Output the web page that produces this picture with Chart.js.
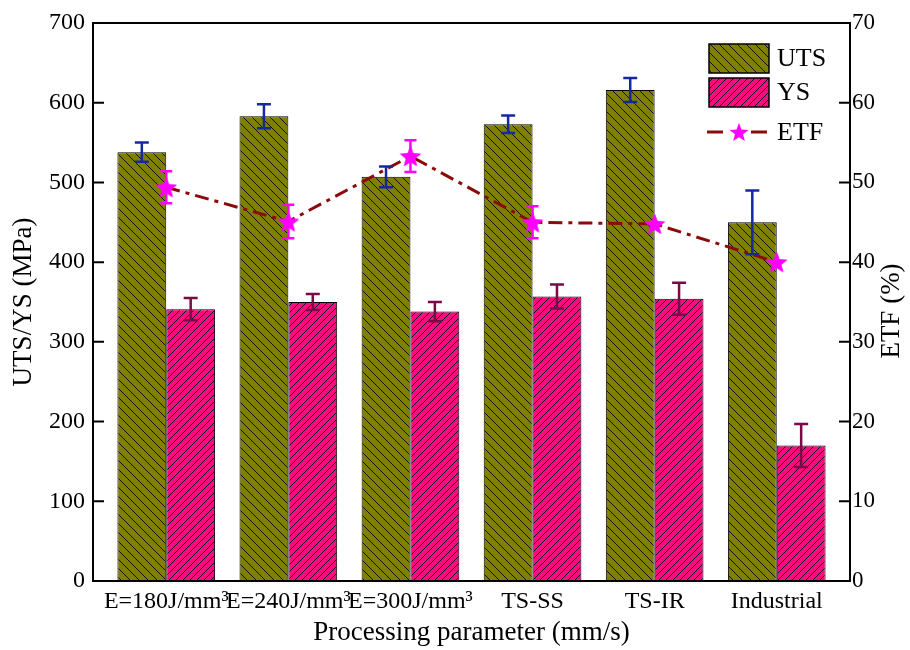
<!DOCTYPE html>
<html>
<head>
<meta charset="utf-8">
<script src="https://cdn.jsdelivr.net/npm/chart.js@4.4.1/dist/chart.umd.min.js"></script>
<style>
  html, body { margin: 0; padding: 0; background: #fff; }
  #wrap { width: 910px; height: 650px; }
</style>
</head>
<body>
<div id="wrap"><canvas id="chart" width="910" height="650"></canvas></div>
<script>
// Values
const categories = ['E=180J/mm³', 'E=240J/mm³', 'E=300J/mm³', 'TS-SS', 'TS-IR', 'Industrial'];
const utsValues = [538, 583, 507, 573, 616, 450];
const utsErrors = [12, 15, 13, 11, 15, 40];
const ysValues = [341, 350, 338, 357, 354, 170];
const ysErrors = [14, 10, 12, 15, 20, 27];
const etfValues = [49.4, 45.1, 53.3, 45.0, 44.8, 40.0];
const etfErrors = [2.0, 2.1, 2.0, 2.0, 0, 0];
const leftTicks = [0, 100, 200, 300, 400, 500, 600, 700];
const rightTicks = [0, 10, 20, 30, 40, 50, 60, 70];

const SERIF = "'Liberation Serif', 'Times New Roman', serif";
const canvas = document.getElementById('chart');
const mainCtx = canvas.getContext('2d');

// diagonal hatch on a coloured ground
function makeHatch(bg, dir, gap) {
  const c = document.createElement('canvas');
  c.width = gap;
  c.height = gap;
  const g = c.getContext('2d');
  g.fillStyle = bg;
  g.fillRect(0, 0, gap, gap);
  g.strokeStyle = '#111';
  g.lineWidth = 1;
  g.beginPath();
  if (dir === 'back') {
    g.moveTo(-1, -1); g.lineTo(gap + 1, gap + 1);
    g.moveTo(-1, gap - 1); g.lineTo(1, gap + 1);
    g.moveTo(gap - 1, -1); g.lineTo(gap + 1, 1);
  } else {
    g.moveTo(-1, gap + 1); g.lineTo(gap + 1, -1);
    g.moveTo(-1, 1); g.lineTo(1, -1);
    g.moveTo(gap - 1, gap + 1); g.lineTo(gap + 1, gap - 1);
  }
  g.stroke();
  return mainCtx.createPattern(c, 'repeat');
}

// filled five point star used as the point marker
function makeStar(size, color) {
  const c = document.createElement('canvas');
  c.width = size;
  c.height = size;
  const g = c.getContext('2d');
  const r = size / 2;
  const ri = r * 0.42;
  const cy = r + r * 0.1;
  g.beginPath();
  for (let i = 0; i < 10; i++) {
    const a = -Math.PI / 2 + i * Math.PI / 5;
    const rad = i % 2 ? ri : r;
    g.lineTo(r + rad * Math.cos(a), cy + rad * Math.sin(a));
  }
  g.closePath();
  g.fillStyle = color;
  g.fill();
  return c;
}

const utsFill = makeHatch('#808000', 'back', 9);
const ysFill = makeHatch('#FF0A80', 'fwd', 7);
const starImg = makeStar(22, '#FF00FF');
const starSmall = makeStar(20, '#FF00FF');
const lineColor = '#8B0A0A';
const lineDash = [14, 6, 4, 6];

function drawErrors(chart, dsIndex, errors, axisId, color, cap) {
  const meta = chart.getDatasetMeta(dsIndex);
  const scale = chart.scales[axisId];
  const vals = chart.data.datasets[dsIndex].data;
  const ctx = chart.ctx;
  ctx.save();
  ctx.strokeStyle = color;
  ctx.lineWidth = 2.5;
  meta.data.forEach((el, i) => {
    const e = errors[i];
    if (!e) return;
    const v = vals[i].y;
    const x = el.x;
    const y1 = scale.getPixelForValue(v + e);
    const y2 = scale.getPixelForValue(v - e);
    ctx.beginPath();
    ctx.moveTo(x, y1); ctx.lineTo(x, y2);
    ctx.moveTo(x - cap / 2, y1); ctx.lineTo(x + cap / 2, y1);
    ctx.moveTo(x - cap / 2, y2); ctx.lineTo(x + cap / 2, y2);
    ctx.stroke();
  });
  ctx.restore();
}

const decor = {
  id: 'decor',
  beforeDraw(chart) {
    const ctx = chart.ctx;
    ctx.save();
    ctx.fillStyle = '#fff';
    ctx.fillRect(0, 0, chart.width, chart.height);
    ctx.restore();
  },
  afterDatasetsDraw(chart) {
    drawErrors(chart, 0, utsErrors, 'y', '#1428A0', 14);
    drawErrors(chart, 1, ysErrors, 'y', '#7A0A45', 14);
    drawErrors(chart, 2, etfErrors, 'y2', '#FF00FF', 12);
    // re-draw stars on top of their error bars
    const meta = chart.getDatasetMeta(2);
    meta.data.forEach(pt => {
      chart.ctx.drawImage(starImg, pt.x - 11, pt.y - 11);
    });
  },
  afterDraw(chart) {
    const ctx = chart.ctx;
    const a = chart.chartArea;
    ctx.save();
    // frame
    ctx.strokeStyle = '#000';
    ctx.lineWidth = 2;
    ctx.strokeRect(a.left, a.top, a.right - a.left, a.bottom - a.top);
    // inward ticks
    ctx.beginPath();
    leftTicks.forEach(v => {
      const y = chart.scales.y.getPixelForValue(v);
      ctx.moveTo(a.left, y); ctx.lineTo(a.left + 11, y);
    });
    rightTicks.forEach(v => {
      const y = chart.scales.y2.getPixelForValue(v);
      ctx.moveTo(a.right, y); ctx.lineTo(a.right - 11, y);
    });
    ctx.stroke();

    // right axis title, reading bottom to top
    ctx.save();
    ctx.translate(892, 311);
    ctx.rotate(-Math.PI / 2);
    ctx.font = '27px ' + SERIF;
    ctx.fillStyle = '#000';
    ctx.textAlign = 'center';
    ctx.textBaseline = 'middle';
    ctx.fillText('ETF (%)', 0, 0);
    ctx.restore();

    // legend
    const lx = 709;
    ctx.lineWidth = 1.5;
    ctx.fillStyle = utsFill;
    ctx.fillRect(lx, 44, 60, 29);
    ctx.strokeRect(lx, 44, 60, 29);
    ctx.fillStyle = ysFill;
    ctx.fillRect(lx, 78, 60, 29);
    ctx.strokeRect(lx, 78, 60, 29);
    ctx.strokeStyle = lineColor;
    ctx.lineWidth = 3;
    ctx.beginPath();
    ctx.moveTo(707, 132); ctx.lineTo(723, 132);
    ctx.moveTo(751, 132); ctx.lineTo(767, 132);
    ctx.stroke();
    ctx.drawImage(starSmall, 729, 122);
    ctx.font = '26px ' + SERIF;
    ctx.fillStyle = '#000';
    ctx.textAlign = 'left';
    ctx.textBaseline = 'middle';
    ctx.fillText('UTS', 777, 59);
    ctx.fillText('YS', 777, 93);
    ctx.fillText('ETF', 777, 133);
    ctx.restore();
  }
};

new Chart(canvas, {
  type: 'bar',
  data: {
    datasets: [
      {
        label: 'UTS',
        data: utsValues.map((v, i) => ({ x: i, y: v })),
        backgroundColor: utsFill,
        borderColor: '#000',
        borderWidth: 1,
        yAxisID: 'y',
        order: 2,
        categoryPercentage: 0.8,
        barPercentage: 1.0
      },
      {
        label: 'YS',
        data: ysValues.map((v, i) => ({ x: i, y: v })),
        backgroundColor: ysFill,
        borderColor: '#000',
        borderWidth: 1,
        yAxisID: 'y',
        order: 2,
        categoryPercentage: 0.8,
        barPercentage: 1.0
      },
      {
        type: 'line',
        label: 'ETF',
        data: etfValues.map((v, i) => ({ x: i, y: v })),
        borderColor: lineColor,
        borderWidth: 3,
        borderDash: lineDash,
        pointStyle: starImg,
        fill: false,
        tension: 0,
        yAxisID: 'y2',
        order: 1
      }
    ]
  },
  options: {
    responsive: false,
    animation: false,
    events: [],
    layout: { padding: { top: 23, left: 0, right: 0, bottom: 0 } },
    plugins: {
      legend: { display: false },
      tooltip: { enabled: false }
    },
    scales: {
      x: {
        type: 'linear',
        offset: false,
        min: -0.6,
        max: 5.6,
        grid: { display: false, drawTicks: false, offset: false },
        border: { display: false },
        afterBuildTicks: s => { s.ticks = categories.map((c, i) => ({ value: i })); },
        afterFit: s => { s.height = 69; },
        ticks: {
          autoSkip: false,
          maxRotation: 0,
          padding: 6,
          color: '#000',
          font: { family: SERIF, size: 24 },
          callback: v => categories[v]
        },
        title: {
          display: true,
          text: 'Processing parameter (mm/s)',
          color: '#000',
          font: { family: SERIF, size: 27 },
          padding: { top: 0, bottom: 1 }
        }
      },
      y: {
        position: 'left',
        min: 0,
        max: 700,
        grid: { display: false, drawTicks: false },
        border: { display: false },
        afterBuildTicks: s => { s.ticks = leftTicks.map(v => ({ value: v })); },
        afterFit: s => { s.width = 93; },
        ticks: {
          padding: 8,
          color: '#000',
          font: { family: SERIF, size: 24 }
        },
        title: {
          display: true,
          text: 'UTS/YS (MPa)',
          color: '#000',
          font: { family: SERIF, size: 27 },
          padding: { top: 8, bottom: 0 }
        }
      },
      y2: {
        position: 'right',
        min: 0,
        max: 70,
        grid: { display: false, drawTicks: false },
        border: { display: false },
        afterBuildTicks: s => { s.ticks = rightTicks.map(v => ({ value: v })); },
        afterFit: s => { s.width = 60; },
        ticks: {
          padding: 2,
          color: '#000',
          font: { family: SERIF, size: 23 }
        }
      }
    }
  },
  plugins: [decor]
});
</script>
</body>
</html>
